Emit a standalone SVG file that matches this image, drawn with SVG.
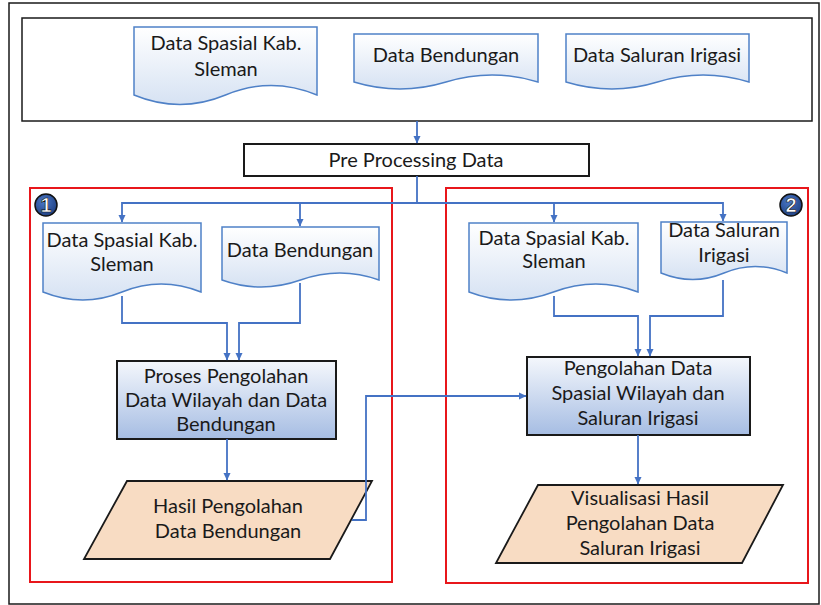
<svg xmlns="http://www.w3.org/2000/svg" width="821" height="605" viewBox="0 0 821 605">
<defs>
  <linearGradient id="docFill" x1="0" y1="0" x2="0" y2="1">
    <stop offset="0" stop-color="#ffffff"/>
    <stop offset="1" stop-color="#d6e2f3"/>
  </linearGradient>
  <linearGradient id="procFill" x1="0" y1="0" x2="0" y2="1">
    <stop offset="0" stop-color="#f4f7fc"/>
    <stop offset="1" stop-color="#a6bde3"/>
  </linearGradient>
  <radialGradient id="badgeFill" cx="0.4" cy="0.35" r="0.7">
    <stop offset="0" stop-color="#4a78c8"/>
    <stop offset="1" stop-color="#1f3f80"/>
  </radialGradient>
  <marker id="arr" markerWidth="8" markerHeight="8" refX="7" refY="4" orient="auto" markerUnits="userSpaceOnUse">
    <path d="M0,0.5 L7.5,4 L0,7.5 Z" fill="#4472c4"/>
  </marker>
</defs>
<style>
  text { font-family: Lato, "Open Sans", "Liberation Sans", sans-serif; font-size: 20px; fill: #1a1a1a; text-anchor: middle; }
  .doc { fill: url(#docFill); stroke: #4f81c7; stroke-width: 1.5; }
  .proc { fill: url(#procFill); stroke: #1a1a1a; stroke-width: 2; }
  .io { fill: #f8dcc3; stroke: #1a1a1a; stroke-width: 1.8; }
  .plain { fill: #ffffff; stroke: #1a1a1a; stroke-width: 2; }
  .frame { fill: none; stroke: #1a1a1a; stroke-width: 1.5; }
  .red { fill: none; stroke: #e8161b; stroke-width: 2; }
  .con { fill: none; stroke: #4472c4; stroke-width: 1.8; }
  .badge { fill: url(#badgeFill); stroke: #111111; stroke-width: 1.5; }
  .bnum { font-family: "Liberation Sans", Arial, sans-serif; font-size: 20px; font-weight: bold; fill: #ffffff; stroke: #111111; stroke-width: 0.6; }
</style>
<rect x="0" y="0" width="821" height="605" fill="#ffffff"/>
<rect id="outer-frame" class="frame" x="9" y="3" width="810" height="601"/>

<g id="top-box">
  <rect class="frame" x="22" y="18" width="790" height="103" stroke-width="2"/>
</g>
<g id="top-doc-spasial">
  <path class="doc" d="M134,27 H317 V95 Q271,76 225.5,95 T134,95 Z"/>
  <text x="226" y="50">Data Spasial Kab.</text>
  <text x="226" y="76">Sleman</text>
</g>
<g id="top-doc-bendungan">
  <path class="doc" d="M354,34 H538 V82 Q492,68 446,82 T354,82 Z"/>
  <text x="446" y="62">Data Bendungan</text>
</g>
<g id="top-doc-irigasi">
  <path class="doc" d="M566,34 H749 V82 Q703,68 657.5,82 T566,82 Z"/>
  <text x="657" y="62">Data Saluran Irigasi</text>
</g>

<g id="preprocessing">
  <rect class="plain" x="244" y="144" width="345" height="32"/>
  <text x="416" y="167">Pre Processing Data</text>
</g>

<g id="group-1">
  <rect class="red" x="30" y="188" width="362" height="394"/>
  <circle class="badge" cx="46" cy="205" r="11"/>
  <text class="bnum" x="46" y="212">1</text>
</g>
<g id="group-2">
  <rect class="red" x="446" y="188" width="362" height="395"/>
  <circle class="badge" cx="791" cy="205" r="11"/>
  <text class="bnum" x="791" y="212">2</text>
</g>

<g id="g1-doc-spasial">
  <path class="doc" d="M43,223 H201 V292 Q161,276 122,292 T43,292 Z"/>
  <text x="122" y="247">Data Spasial Kab.</text>
  <text x="122" y="271">Sleman</text>
</g>
<g id="g1-doc-bendungan">
  <path class="doc" d="M222,227 H379 V280 Q340,266 300.5,280 T222,280 Z"/>
  <text x="300" y="257">Data Bendungan</text>
</g>
<g id="g1-process">
  <rect class="proc" x="117" y="361" width="219" height="78"/>
  <text x="226" y="383">Proses Pengolahan</text>
  <text x="226" y="407">Data Wilayah dan Data</text>
  <text x="226" y="431">Bendungan</text>
</g>
<g id="g1-output">
  <polygon class="io" points="127,481 372,481 330,559 84,559"/>
  <text x="228" y="513">Hasil Pengolahan</text>
  <text x="228" y="538">Data Bendungan</text>
</g>

<g id="g2-doc-spasial">
  <path class="doc" d="M469,223 H638 V292 Q596,276 553.5,292 T469,292 Z"/>
  <text x="554" y="245">Data Spasial Kab.</text>
  <text x="554" y="268">Sleman</text>
</g>
<g id="g2-doc-irigasi">
  <path class="doc" d="M661,222 H787 V273 Q755,260 724,273 T661,273 Z"/>
  <text x="724" y="237">Data Saluran</text>
  <text x="724" y="262">Irigasi</text>
</g>
<g id="g2-process">
  <rect class="proc" x="527" y="357" width="223" height="78"/>
  <text x="638" y="375">Pengolahan Data</text>
  <text x="638" y="400">Spasial Wilayah dan</text>
  <text x="638" y="425">Saluran Irigasi</text>
</g>
<g id="g2-output">
  <polygon class="io" points="538,485 783,485 742,563 496,563"/>
  <text x="640" y="505">Visualisasi Hasil</text>
  <text x="640" y="530">Pengolahan Data</text>
  <text x="640" y="555">Saluran Irigasi</text>
</g>

<g id="connectors">
  <path class="con" d="M417,121 V143" marker-end="url(#arr)"/>
  <path class="con" d="M417,176 V203 H122 V222" marker-end="url(#arr)"/>
  <path class="con" d="M300,203 V226" marker-end="url(#arr)"/>
  <path class="con" d="M417,203 H723 V221" marker-end="url(#arr)"/>
  <path class="con" d="M554,203 V222" marker-end="url(#arr)"/>
  <path class="con" d="M122,296 V323 H227 V360" marker-end="url(#arr)"/>
  <path class="con" d="M300,283 V323 H239 V360" marker-end="url(#arr)"/>
  <path class="con" d="M227,439 V480" marker-end="url(#arr)"/>
  <path class="con" d="M352,520 H366 V396 H526" marker-end="url(#arr)"/>
  <path class="con" d="M554,296 V316 H638 V356" marker-end="url(#arr)"/>
  <path class="con" d="M723,280 V316 H650 V356" marker-end="url(#arr)"/>
  <path class="con" d="M638,435 V484" marker-end="url(#arr)"/>
</g>
</svg>
